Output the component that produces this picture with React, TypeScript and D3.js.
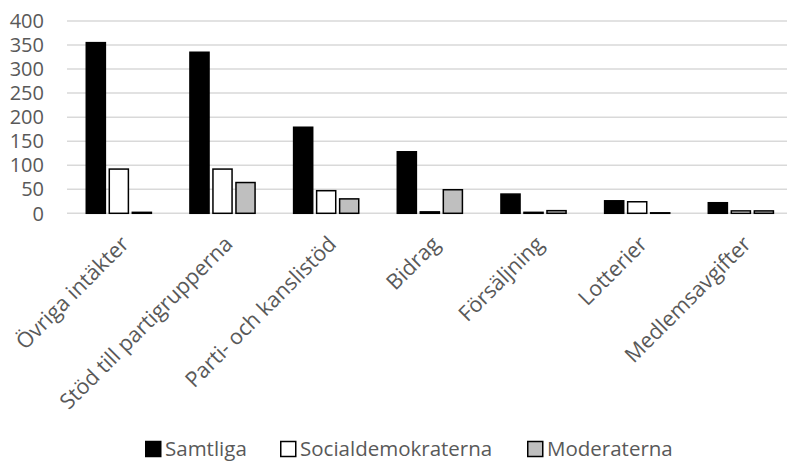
import React, { useEffect, useRef } from "react";
import * as d3 from "d3";

const categories = [
  "Övriga intäkter",
  "Stöd till partigrupperna",
  "Parti- och kanslistöd",
  "Bidrag",
  "Försäljning",
  "Lotterier",
  "Medlemsavgifter",
];
const seriesNames = ["Samtliga", "Socialdemokraterna", "Moderaterna"];
const samtliga = [355, 335, 179, 128, 40, 26, 22];
const socialdemokraterna = [92, 92, 47, 3, 2, 24, 5];
const moderaterna = [2, 64, 30, 49, 5.5, 1, 5];
const yTicks = [0, 50, 100, 150, 200, 250, 300, 350, 400];

const W = 787;
const H = 461;
const FONT = "'Open Sans', sans-serif";
const TEXT = "#595959";
const fills = ["#000000", "#FFFFFF", "#BFBFBF"];

export default function App() {
  const ref = useRef<SVGSVGElement>(null);

  useEffect(() => {
    document.body.style.margin = "0";
    const svg = d3.select(ref.current);
    svg.selectAll("*").remove();

    const left = 67;
    const step = 103.67;
    const x0 = d3
      .scaleBand<string>()
      .domain(categories)
      .range([left, left + step * categories.length])
      .paddingInner(0.334)
      .paddingOuter(0.167);
    const x1 = d3
      .scaleBand<string>()
      .domain(seriesNames)
      .range([0, x0.bandwidth()])
      .paddingInner(0.17)
      .paddingOuter(0.085);
    const y = d3.scaleLinear().domain([0, 400]).range([213.3, 21]);

    // gridlines
    svg
      .append("g")
      .selectAll("line")
      .data(yTicks)
      .join("line")
      .attr("x1", left)
      .attr("x2", W)
      .attr("y1", (d) => y(d))
      .attr("y2", (d) => y(d))
      .attr("stroke", "#D9D9D9")
      .attr("stroke-width", 1.5);

    // y tick labels
    svg
      .append("g")
      .selectAll("text")
      .data(yTicks)
      .join("text")
      .attr("x", 44)
      .attr("y", (d) => y(d))
      .attr("dy", "0.36em")
      .attr("text-anchor", "end")
      .attr("font-family", FONT)
      .attr("font-size", 20)
      .attr("fill", TEXT)
      .text((d) => d);

    const values = [samtliga, socialdemokraterna, moderaterna];
    const rows = categories.flatMap((c, i) =>
      seriesNames.map((s, j) => ({ c, s, j, v: values[j][i] }))
    );

    svg
      .append("g")
      .selectAll("rect")
      .data(rows)
      .join("rect")
      .attr("x", (d) => (x0(d.c) as number) + (x1(d.s) as number))
      .attr("y", (d) => y(d.v))
      .attr("width", x1.bandwidth())
      .attr("height", (d) => y(0) - y(d.v))
      .attr("fill", (d) => fills[d.j])
      .attr("stroke", "#000")
      .attr("stroke-width", 1.5);

    // category labels
    svg
      .append("g")
      .selectAll("text")
      .data(categories)
      .join("text")
      .attr(
        "transform",
        (d) => `translate(${(x0(d) as number) + x0.bandwidth() / 2},234) rotate(-45)`
      )
      .attr("dy", "0.75em")
      .attr("text-anchor", "end")
      .attr("font-family", FONT)
      .attr("font-size", 21.5)
      .attr("fill", TEXT)
      .text((d) => d);

    // legend
    const legendX = [145, 280, 527];
    const lg = svg
      .append("g")
      .selectAll("g")
      .data(seriesNames)
      .join("g")
      .attr("transform", (_d, i) => `translate(${legendX[i]},449)`);
    lg.append("rect")
      .attr("x", 0.75)
      .attr("y", -7.5)
      .attr("width", 15)
      .attr("height", 15)
      .attr("fill", (_d, i) => fills[i])
      .attr("stroke", "#000")
      .attr("stroke-width", 1.5);
    lg.append("text")
      .attr("x", 20)
      .attr("dy", "0.36em")
      .attr("font-family", FONT)
      .attr("font-size", 20.5)
      .attr("fill", TEXT)
      .text((d) => d);
  }, []);

  return <svg ref={ref} width={W} height={H} style={{ display: "block", background: "#fff" }} />;
}
